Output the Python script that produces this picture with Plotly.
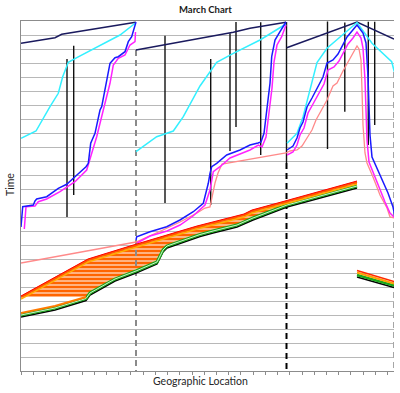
import plotly.graph_objects as go

# ---------------- data (x = geographic location, y = time) ----------------
# navy lines
NAVY_X = [[21, 55, 61.7, 135.7], [136, 163.3, 200, 233.3, 250, 286], [286.7, 357, 394]]
NAVY_Y = [[43.3, 37.7, 34.3, 22.3], [50, 45, 37.7, 32.3, 28.3, 22.3], [47.7, 22, 39]]

# cyan lines
CYAN_X = [[21, 36, 50, 58.3, 62.7, 68.3, 77.3, 100, 120, 135.5],
          [136, 156.7, 173.3, 183.3, 200, 216.7, 233.3, 260, 286],
          [287, 297, 303, 317, 327, 357, 372, 391.7, 394.3]]
CYAN_Y = [[138.3, 131, 106.7, 93.3, 76.7, 62.3, 57.3, 45, 35, 23],
          [151.7, 136.7, 131, 116.7, 86, 62.3, 53.3, 40, 24],
          [143.3, 133.3, 117, 62.5, 48.3, 22.5, 43.3, 61.7, 71.7]]

# blue lines
BLUE_X = [[21, 22.7, 33.3, 35, 36.7, 46.7, 58.3, 61.7, 66.7, 75, 80, 86, 88.3, 90.7, 95, 100, 101.7,
           106.7, 110, 115, 118.3, 125, 128.3, 131.7, 135, 136],
          [136, 136.7, 150, 166.7, 180, 193.3, 203.3, 206.7, 208.3, 210, 211.7, 216.7, 226.7, 240, 250,
           258, 261, 264, 266.7, 270, 271.7, 275, 280, 285, 286],
          [287, 293, 297, 300, 303, 307, 312, 317, 323, 327, 333, 338, 342, 347, 352, 357, 363, 366,
           368, 369, 370, 372, 377, 383, 388, 393, 395]]
BLUE_Y = [[227, 206.7, 205, 201, 199, 196.7, 188.3, 186.7, 184.3, 176.7, 171.7, 166.7, 163.3, 143.3,
           133.3, 110, 106.7, 81.7, 63.3, 57.7, 56.7, 51.7, 41.7, 36.7, 23.3, 22],
          [240, 236.7, 231.7, 226.7, 220, 211.7, 203.3, 190, 183.3, 173.3, 166.7, 163.3, 155, 150, 145,
           143, 142, 133.3, 110, 83.3, 56.7, 40, 31.7, 23.3, 22],
          [150, 146, 138, 128, 122, 107, 98, 88, 77, 63, 60, 54, 47, 37, 31, 25, 33, 43,
           77, 110, 135, 157, 168, 182, 193, 207, 217]]

# magenta lines
MAG_X = [[24.3, 26, 35, 38.3, 46.7, 60, 75, 86.7, 92.7, 96.7, 103.3, 110, 113.3, 118.3, 125, 130, 135, 135.5],
         [137, 150, 167, 180, 193, 205, 210, 213.3, 220, 230, 240, 250, 258.3, 262, 266, 269, 272, 274,
          277, 281.7, 286],
         [287, 293, 297, 300, 304, 308, 313, 318, 324, 328, 334, 339, 343, 348, 353, 357, 361, 363,
          365, 366, 367, 369, 374, 380, 385, 390, 395]]
MAG_Y = [[229, 206.7, 206, 201.7, 199, 191.7, 181.7, 170, 150, 136.7, 110, 83.3, 65, 58.3, 55, 45, 41.7, 32],
         [243, 236, 231, 225, 216, 205, 190, 171.7, 166.7, 158, 154, 150, 145, 147, 137, 115, 88, 62,
          45, 36.7, 25],
         [155, 152, 145, 135, 128, 113, 104, 95, 84, 70, 67, 61, 54, 44, 38, 32, 38, 48,
          80, 115, 140, 162, 175, 190, 202, 213, 218]]

# salmon line
SAL_X = [21, 136, 163, 180, 197, 205, 210, 212, 215, 218, 220, 222, 286, 290, 297, 302, 307, 312, 316,
         323, 327, 333, 337, 343, 347, 352, 357, 359, 361, 362, 363, 365, 367, 373, 380, 387, 390, 395]
SAL_Y = [263, 242, 230, 222, 213, 208, 207, 197, 183, 173, 168, 164, 153, 151, 150, 146, 138, 130, 120,
         107, 100, 86, 83, 71, 64, 55, 46, 49, 60, 90, 125, 153, 163, 177, 195, 208, 217, 218]

# band: upper (red / orange) and lower (green / black) edges
UP_X = [21, 88, 130, 197, 244, 252, 285, 357]
RED_Y = [297, 260, 247, 227, 215, 211, 202, 182]
ORA_Y = [299, 262, 249, 229, 217, 213, 204, 184]
LOW_X = [21, 55, 86, 90, 115, 136, 157, 160, 163, 167, 200, 213, 237, 253, 287, 357]
GRN_Y = [315, 308, 298.5, 293, 279, 271, 262, 256, 250, 246, 234.5, 231, 225, 218, 205, 186]
BLK_Y = [317, 310, 300.5, 295, 281, 273, 264, 258, 252, 248, 236.5, 233, 227, 220, 207, 188]
LOWORA_X = [21, 55, 86]
LOWORA_Y = [313, 306, 297]
# hatched region outline
HATCH_X = [21, 88, 130, 197, 244, 252, 285, 357, 357, 287, 253, 237, 213, 200, 167, 163, 160, 157,
           136, 115, 91, 88, 21]
HATCH_Y = [297, 260, 247, 227, 215, 211, 202, 182, 186, 205, 218, 225, 231, 234.5, 246, 250, 256, 262,
           271, 279, 292, 297, 297]

# small band at right
SB_X = [357, 394]
SB_RED = [270.5, 281.5]
SB_ORA = [272.5, 283.5]
SB_GRN = [275, 285.5]
SB_BLK = [277, 287.5]

# thin black vertical lines
VX = [67, 73.7, 165, 210.7, 230, 236, 260.7, 286.5, 327.5, 344.8, 368.3, 374.7]
VTOP = [59, 45.7, 35.7, 59, 33.3, 22, 22.3, 22, 21.5, 22.5, 21.7, 21.7]
VBOT = [217, 195, 203, 205, 151, 127, 155, 163, 149, 111.7, 145, 125]

# dashed dividers
DIV_X = [136, 286.5, 394]
DIV_TOP = [50, 163, 72]
DIV_BOT = [371, 371, 371]
DIV_COL = ["#8a8a8a", "#000000", "#a6a6a6"]

fig = go.Figure()


def add_line(x, y, color, width, dash=None):
    fig.add_trace(go.Scatter(x=x, y=y, mode="lines", hoverinfo="skip", showlegend=False,
                             line=dict(color=color, width=width, dash=dash)))


# hatch fill
fig.add_trace(go.Scatter(x=HATCH_X, y=HATCH_Y, mode="lines", fill="toself", showlegend=False,
                         hoverinfo="skip", line=dict(width=0, color="rgba(0,0,0,0)"),
                         fillcolor="#ffffff",
                         fillpattern=dict(shape="-", fgcolor="#ff6400", bgcolor="#ffffff",
                                          fgopacity=1, fillmode="replace", size=4, solidity=0.75)))

# dividers
for xv, t, b, c in zip(DIV_X, DIV_TOP, DIV_BOT, DIV_COL):
    add_line([xv, xv], [t, b], c, 2, "6px,4px")

# verticals
vx, vy = [], []
for xv, t, b in zip(VX, VTOP, VBOT):
    vx += [xv, xv, None]
    vy += [t, b, None]
add_line(vx, vy, "#111111", 1.4)

for x, y in zip(NAVY_X, NAVY_Y):
    add_line(x, y, "#1a1a5e", 1.5)
for x, y in zip(CYAN_X, CYAN_Y):
    add_line(x, y, "#33f0ff", 1.5)
add_line(SAL_X, SAL_Y, "#ff8a8a", 1.3)
for x, y in zip(MAG_X, MAG_Y):
    add_line(x, y, "#ff22ff", 1.5)
for x, y in zip(BLUE_X, BLUE_Y):
    add_line(x, y, "#1a1aff", 1.5)

# band lines
add_line(LOW_X, BLK_Y, "#000000", 1.5)
add_line(LOW_X, GRN_Y, "#1aa81a", 3)
add_line(LOW_X, GRN_Y, "#ffffff", 0.8)
add_line(LOWORA_X, LOWORA_Y, "#ff7a00", 2)
add_line(UP_X, ORA_Y, "#ffb000", 1.5)
add_line(UP_X, RED_Y, "#ff5a00", 2)
add_line(UP_X, [v - 1 for v in RED_Y], "#ff0000", 1)

add_line(SB_X, SB_BLK, "#000000", 1.5)
add_line(SB_X, SB_GRN, "#1aa81a", 2.5)
add_line(SB_X, SB_ORA, "#ffa000", 2)
add_line(SB_X, SB_RED, "#ff2a00", 1.5)

FONT = "Lato, Open Sans, sans-serif"
fig.update_layout(
    width=400, height=393,
    margin=dict(l=21, r=6, t=21, b=22),
    paper_bgcolor="white", plot_bgcolor="white",
    font=dict(family=FONT, color="#262626"),
    xaxis=dict(range=[21, 394], showgrid=False, zeroline=False, showline=True,
               linecolor="#8c8c8c", linewidth=1, mirror=True, ticks="outside", ticklen=3,
               tickcolor="#8c8c8c", tick0=21, dtick=12.22, showticklabels=False, fixedrange=True),
    yaxis=dict(range=[371, 21], showgrid=True, gridcolor="#b8b8b8", gridwidth=1, zeroline=False,
               showline=True, linecolor="#8c8c8c", linewidth=1, ticks="", tick0=21, dtick=14,
               showticklabels=False, fixedrange=True),
    annotations=[
        dict(text="<b>March Chart</b>", x=(205 - 21) / 373, y=(371 - 9) / 350, xref="paper", yref="paper",
             showarrow=False, font=dict(size=9.5, color="#1a1a1a"), xanchor="center", yanchor="middle"),
        dict(text="Geographic Location", x=(200 - 21) / 373, y=(371 - 380.5) / 350, xref="paper",
             yref="paper", showarrow=False, font=dict(size=10.5), xanchor="center", yanchor="middle"),
        dict(text="Time", x=(10 - 21) / 373, y=(371 - 185) / 350, xref="paper", yref="paper",
             showarrow=False, textangle=-90, font=dict(size=10.5), xanchor="center", yanchor="middle"),
    ],
)

# remove the default page margin so the figure fills the 400x393 window exactly
fig.write_html("out.html", config={"displayModeBar": False},
               post_script="document.body.style.margin='0';document.body.style.overflow='hidden';")
